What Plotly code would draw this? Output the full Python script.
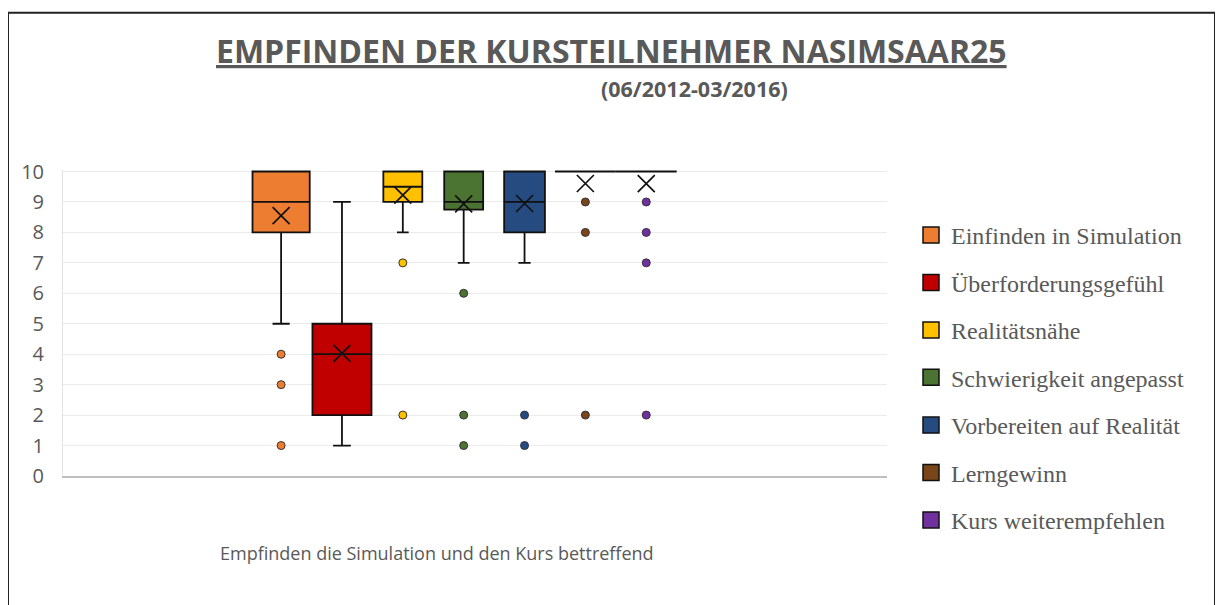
import numpy as np
import plotly.graph_objects as go

# ---------------- data ----------------
scores = [1, 2, 3, 4, 5, 6, 7, 8, 9, 10]

series_names = [
    "Einfinden in Simulation",
    "Überforderungsgefühl",
    "Realitätsnähe",
    "Schwierigkeit angepasst",
    "Vorbereiten auf Realität",
    "Lerngewinn",
    "Kurs weiterempfehlen",
]

# number of answers per score 1..10 (estimated from the chart)
einfinden_counts = [1, 0, 1, 1, 1, 0, 0, 14, 3, 19]
ueberforderung_counts = [4, 7, 5, 8, 9, 2, 2, 2, 1, 0]
realitaet_counts = [0, 1, 0, 0, 0, 0, 1, 2, 16, 20]
schwierigkeit_counts = [1, 1, 0, 0, 0, 1, 2, 15, 29, 32]
vorbereiten_counts = [1, 1, 0, 0, 0, 0, 3, 16, 26, 33]
lerngewinn_counts = [0, 1, 0, 0, 0, 0, 0, 1, 1, 25]
weiterempfehlen_counts = [0, 1, 0, 0, 0, 0, 1, 1, 1, 31]

y_ticks = [0, 1, 2, 3, 4, 5, 6, 7, 8, 9, 10]

title_text = "EMPFINDEN DER KURSTEILNEHMER NASIMSAAR25"
subtitle_text = "(06/2012-03/2016)"
category_label = "Empfinden die Simulation und den Kurs bettreffend"

# ---------------- styles ----------------
colors = ["#ED7D31", "#C00000", "#FFC000", "#4B7332", "#264B80", "#7A4519", "#7030A0"]
box_widths = [0.94, 0.97, 0.64, 0.64, 0.67, 1.0, 1.0]

all_counts = [einfinden_counts, ueberforderung_counts, realitaet_counts,
              schwierigkeit_counts, vorbereiten_counts, lerngewinn_counts,
              weiterempfehlen_counts]

# page offset of the plot div (body margin)
OFF = 8
W, H = 1223, 605
# target plot area in window pixels
PX_L, PX_R, PX_T, PX_B = 63, 887, 169.5, 476
L = PX_L - OFF
T = PX_T - OFF
R = W - (PX_R - OFF)
B = H - (PX_B - OFF)
PW = W - L - R
PH = H - T - B


def px2x(px):
    return (px - PX_L) / PW


def px2y(py):
    return (PX_B - py) / PH


def px2cy(py):
    return 1 - (py - OFF) / H


GREY = "#595959"

fig = go.Figure()

for name, counts, col, wd in zip(series_names, all_counts, colors, box_widths):
    vals = np.repeat(scores, counts)
    fig.add_trace(go.Box(
        y=vals,
        x=[name] * len(vals),
        name=name,
        fillcolor=col,
        line=dict(color="#111111", width=1.8),
        marker=dict(color=col, size=8, line=dict(color="#333333", width=1)),
        boxpoints="outliers",
        jitter=0,
        pointpos=0,
        width=wd,
        whiskerwidth=0.3,
        quartilemethod="linear",
        showlegend=False,
        hoverinfo="skip",
    ))
    fig.add_trace(go.Scatter(
        x=[name],
        y=[float(np.mean(vals))],
        mode="markers",
        marker=dict(symbol="x-thin", size=17, color="#111111",
                    line=dict(color="#111111", width=1.7)),
        showlegend=False,
        hoverinfo="skip",
    ))

# legend entries (split over two legend boxes so no scrollbar appears)
for i, (name, col) in enumerate(zip(series_names, colors)):
    fig.add_trace(go.Scatter(
        x=[None], y=[None], mode="markers", name=name,
        legendgroup="g%d" % i,
        legend="legend" if i < 4 else "legend2",
        marker=dict(symbol="square", size=16, color=col,
                    line=dict(color="#111111", width=1.5)),
    ))

legend_style = dict(
    x=px2x(911), xanchor="left",
    yref="container", yanchor="top",
    font=dict(family="Liberation Serif", size=24, color=GREY),
    tracegroupgap=13.2,
    bgcolor="rgba(0,0,0,0)",
)

fig.update_layout(
    width=W, height=H,
    margin=dict(l=L, r=R, t=T, b=B, pad=0, autoexpand=False),
    paper_bgcolor="white",
    plot_bgcolor="white",
    boxmode="overlay",
    showlegend=True,
    legend=dict(legend_style, y=px2cy(213)),
    legend2=dict(legend_style, y=px2cy(403)),
    xaxis=dict(
        type="category",
        categoryorder="array",
        categoryarray=series_names,
        range=[-3.584, 9.956],
        showticklabels=False,
        showgrid=False,
        zeroline=False,
        showline=True,
        linecolor="#BFBFBF",
        linewidth=1.5,
        ticks="",
        fixedrange=True,
    ),
    yaxis=dict(
        range=[0, 10.05],
        tickvals=y_ticks,
        showgrid=True,
        gridcolor="#EBEBEB",
        gridwidth=1,
        zeroline=False,
        showline=True,
        linecolor="#E3E3E3",
        linewidth=1,
        ticks="",
        ticklabelstandoff=14,
        tickfont=dict(family="Open Sans", size=20, color=GREY),
    ),
    annotations=[
        dict(text="<b><u>" + title_text + "</u></b>", xref="paper", yref="paper",
             x=px2x(611.5), y=px2y(50), xanchor="center", yanchor="middle",
             showarrow=False, font=dict(family="Open Sans", size=32, color=GREY)),
        dict(text="<b>" + subtitle_text + "</b>", xref="paper", yref="paper",
             x=px2x(694), y=px2y(88), xanchor="center", yanchor="middle",
             showarrow=False, font=dict(family="Open Sans", size=21.5, color=GREY)),
        dict(text=category_label, xref="paper", yref="paper",
             x=px2x(437), y=px2y(553), xanchor="center", yanchor="middle",
             showarrow=False, font=dict(family="Open Sans", size=18, color=GREY)),
    ],
    shapes=[
        dict(type="rect", xref="paper", yref="paper",
             x0=px2x(8), x1=px2x(1215), y0=px2y(640), y1=px2y(12),
             line=dict(color="#222222", width=2), fillcolor="rgba(0,0,0,0)",
             layer="above"),
    ],
)

fig.write_html("out.html")
